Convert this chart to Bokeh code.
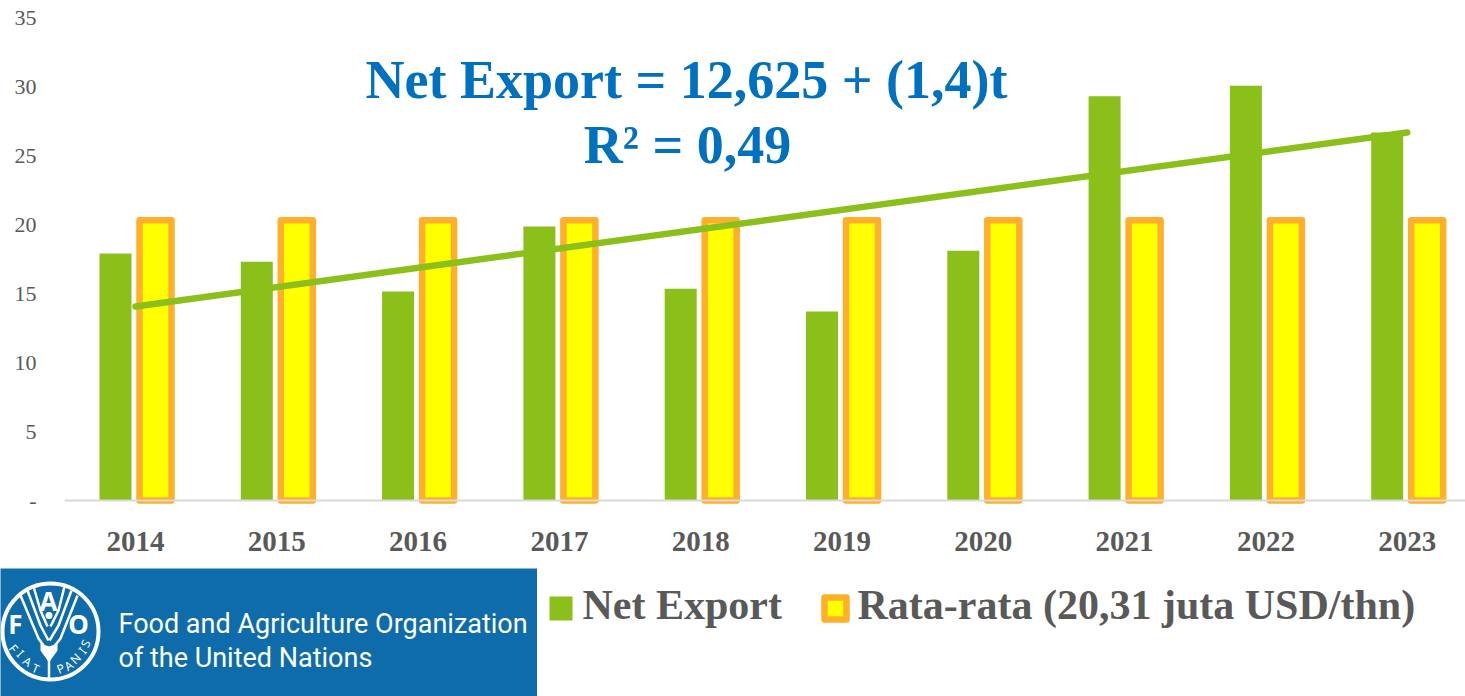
from bokeh.plotting import figure
from bokeh.embed import file_html
from bokeh.resources import INLINE
from bokeh.models import Range1d, FixedTicker, ColumnDataSource
from bokeh.core.properties import value

years = [2014, 2015, 2016, 2017, 2018, 2019, 2020, 2021, 2022, 2023]
net_export = [17.9, 17.3, 15.15, 19.85, 15.35, 13.7, 18.1, 29.3, 30.05, 26.67]
rata_rata = [20.31] * 10
trend_years = [2014, 2023]
trend_values = [14.06, 26.67]
y_ticks = [0, 5, 10, 15, 20, 25, 30, 35]

GREEN = "#8BBF1A"
ORANGE = "#FFAF2B"
YELLOW = "#FFFF00"
GREY = "#595959"
BLUE = "#0070C0"
LOGO = "#0F6CAB"
SERIF = "Liberation Serif"

PX_X = 141.3
PX_Y = 13.8
W, H = 1465, 568
LEFT, BASE, BOTTOM = 64, 500, 64
frame_w = W - LEFT
x0 = 2014 - (135 - LEFT) / PX_X
x1 = x0 + frame_w / PX_X

p = figure(width=W, height=H, output_backend="svg", toolbar_location=None,
           x_range=Range1d(x0, x1),
           y_range=Range1d(-(H - BOTTOM - BASE) / PX_Y, BASE / PX_Y),
           min_border_left=LEFT, min_border_right=0, min_border_top=0, min_border_bottom=BOTTOM,
           outline_line_color=None, background_fill_color="white", border_fill_color="white",
           styles={"position": "absolute", "left": "0px", "top": "0px"})
p.grid.visible = False

bw = 32 / PX_X
off = 20 / PX_X
src = ColumnDataSource(dict(g=[y - off for y in years], o=[y + off for y in years],
                            net=net_export, avg=rata_rata))
p.vbar(x="g", top="net", width=bw, source=src, fill_color=GREEN, line_color=None)
p.vbar(x="o", top="avg", width=bw, source=src, fill_color=YELLOW, line_color=ORANGE,
       line_width=6.5, line_join="round")
p.segment([x0], [0], [x1], [0], line_color="#D9D9D9", line_width=2)
p.line(trend_years, trend_values, line_color=GREEN, line_width=6.5, line_cap="round")

p.xaxis.ticker = FixedTicker(ticks=years)
p.xaxis.major_label_overrides = {y: str(y) for y in years}
p.xaxis.major_label_text_font = SERIF
p.xaxis.major_label_text_font_style = "bold"
p.xaxis.major_label_text_font_size = "29px"
p.xaxis.major_label_text_color = GREY
p.xaxis.major_label_standoff = 21
p.xaxis.major_tick_line_color = None
p.xaxis.minor_tick_line_color = None
p.xaxis.axis_line_color = None

p.yaxis.ticker = FixedTicker(ticks=y_ticks)
p.yaxis.major_label_overrides = {0: "-"}
p.yaxis.major_label_text_font = SERIF
p.yaxis.major_label_text_font_size = "22px"
p.yaxis.major_label_text_color = GREY
p.yaxis.major_label_standoff = 22
p.yaxis.major_tick_line_color = None
p.yaxis.minor_tick_line_color = None
p.yaxis.axis_line_color = None

def dx(px):
    return x0 + (px - LEFT) / PX_X

def dy(px):
    return (BASE - px) / PX_Y

p.text([dx(686), dx(687)], [dy(79), dy(144)], text=["Net Export = 12,625 + (1,4)t", "R² = 0,49"],
       text_align="center", text_baseline="alphabetic", text_font=value(SERIF),
       text_font_style="bold", text_font_size="54px", text_color=BLUE)

# FAO logo block
logo = figure(width=537, height=128, output_backend="svg", toolbar_location=None,
              x_range=Range1d(0, 537), y_range=Range1d(128, 0),
              min_border=0, outline_line_color=None, background_fill_color=LOGO,
              border_fill_color=LOGO,
              styles={"position": "absolute", "left": "0px", "top": "568px"})
logo.axis.visible = False
logo.grid.visible = False
logo.circle([50], [63], radius=48, fill_color=None, line_color="white", line_width=4)
logo.multi_line([[20, 38, 48], [77, 60, 49], [27, 40, 48], [71, 58, 49], [33, 40, 47], [64, 58, 50], [48.5, 48.5]],
                [[27, 70, 84], [27, 70, 84], [22, 57, 72], [22, 57, 72], [18, 42, 58], [18, 42, 58], [78, 110]],
                line_color="white", line_width=2.5)
logo.varea([40, 48.5, 57], [75, 78, 75], [82, 94, 82], fill_color="white")
logo.circle([48.5], [47], radius=3.5, fill_color="white", line_color=None)
logo.text([48, 15, 78], [32, 55, 55], text=["A", "F", "O"], text_color="white",
          text_font=value("Noto Sans"), text_font_style="bold", text_font_size="26px",
          text_align="center", text_baseline="middle")
logo.text([13, 20, 27, 35, 60, 68, 75, 82, 85], [80, 85, 93, 100, 100, 97, 90, 82, 75],
          text=["F", "I", "A", "T", "P", "A", "N", "I", "S"],
          angle=[-0.9, -0.8, -0.6, -0.4, 0.4, 0.6, 0.8, 0.9, 1.1], text_color="white",
          text_font=value("Noto Sans"), text_font_size="12px",
          text_align="center", text_baseline="middle")
logo.text([118, 118], [55, 89], text=["Food and Agriculture Organization", "of the United Nations"],
          text_color="white", text_font=value("Roboto"), text_font_size="27px",
          text_align="left", text_baseline="alphabetic")

# Legend strip
leg = figure(width=928, height=128, output_backend="svg", toolbar_location=None,
             x_range=Range1d(537, 1465), y_range=Range1d(696, 568),
             min_border=0, outline_line_color=None, background_fill_color="white",
             border_fill_color="white",
             styles={"position": "absolute", "left": "537px", "top": "568px"})
leg.axis.visible = False
leg.grid.visible = False
leg.rect([560.5], [608], width=23, height=24, fill_color=GREEN, line_color=None)
leg.rect([835], [608], width=22, height=22, fill_color=YELLOW, line_color=ORANGE, line_width=6.5,
         line_join="round")
leg.text([582, 857], [604, 604], text=["Net Export", "Rata-rata (20,31 juta USD/thn)"],
         text_font=value(SERIF), text_font_style="bold", text_font_size="42px", text_color=GREY,
         text_align="left", text_baseline="alphabetic")

open("out.html", "w").write(file_html([p, logo, leg], INLINE))
